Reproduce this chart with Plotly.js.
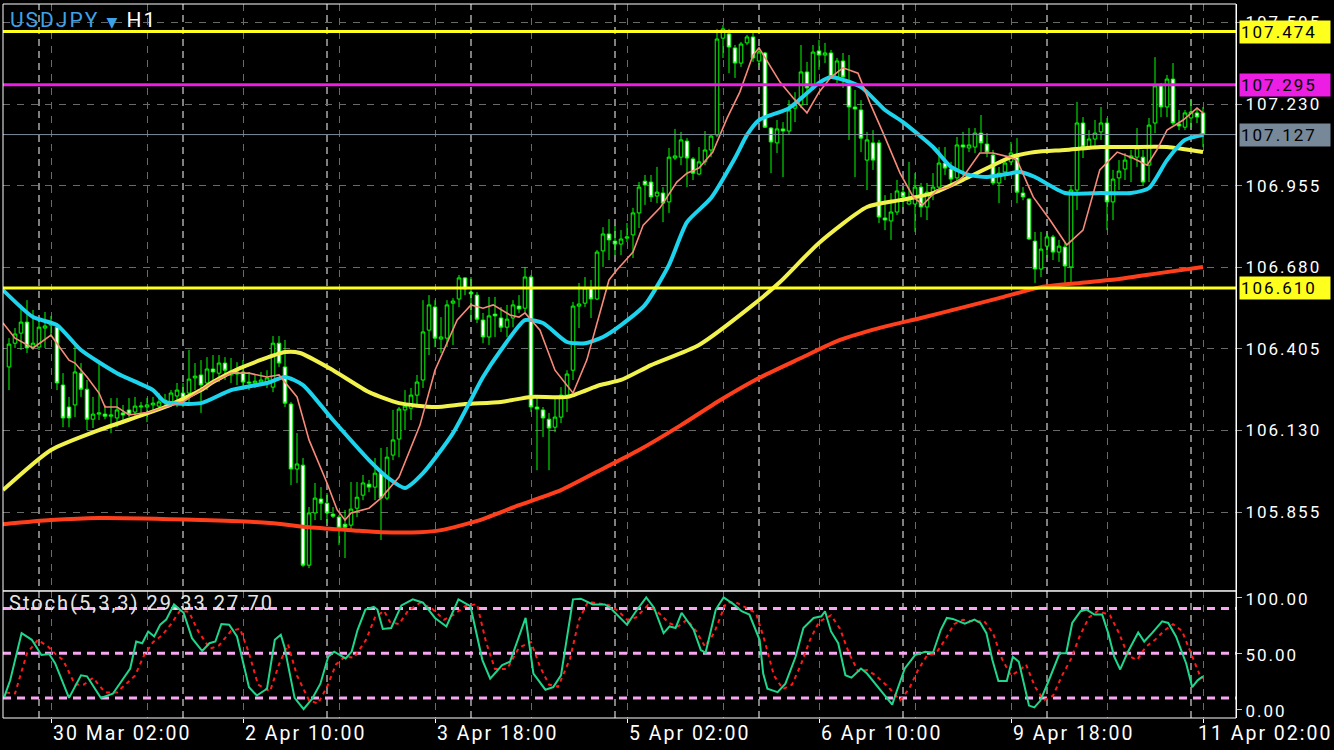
<!DOCTYPE html>
<html><head><meta charset="utf-8">
<script src="https://cdn.plot.ly/plotly-3.0.1.min.js"></script>
<style>
html,body{margin:0;padding:0;background:#000;overflow:hidden}
#chart{width:1334px;height:750px}
.annotation-text, .ytick text, .y2tick text{letter-spacing:2px}
</style>
</head><body><div id="chart"></div>
<script>
// ---------- data ----------
const symbol = "USDJPY";
const timeframe = "H1";
const timeLabels = ["30 Mar 02:00","2 Apr 10:00","3 Apr 18:00","5 Apr 02:00","6 Apr 10:00","9 Apr 18:00","11 Apr 02:00"];
const timeLabelBars = [7,39,71,103,135,167,199];
const daySeparatorBars = [5,29,53,77,101,125,149,173,197];
const priceTicks = [105.855,106.130,106.405,106.680,106.955,107.230,107.505];
const stochTicks = [0,50,100];
const stochTickText = ["0.00","50.00","100.00"];
const stochLevels = [10,50,90];
const levelYellowTop = 107.474;
const levelMagenta = 107.295;
const levelYellowBottom = 106.610;
const bidPrice = 107.127;
const stochHeader = "Stoch(5,3,3) 29.33 27.70";

const openP = [
106.344,106.424,106.458,106.495,106.411,106.411,106.475,106.485,106.478,106.283,
106.209,106.216,106.323,106.269,106.168,106.185,106.185,106.178,106.172,106.189,
106.199,106.192,106.209,106.209,106.216,106.212,106.226,106.226,106.246,106.256,
106.256,106.307,106.317,106.290,106.337,106.323,106.357,106.317,106.327,106.327,
106.293,106.290,106.293,106.293,106.276,106.424,106.344,106.219,106.000,106.013,
105.676,105.852,105.899,105.885,105.848,105.838,105.814,105.811,105.868,105.912,
105.949,105.939,105.986,105.902,106.047,106.101,106.199,106.205,106.249,106.300,
106.468,106.546,106.438,106.441,106.559,106.573,106.644,106.596,106.586,106.502,
106.445,106.522,106.509,106.478,106.509,106.549,106.542,106.647,106.209,106.199,
106.168,106.141,106.175,106.249,106.333,106.549,106.559,106.610,106.573,106.735,
106.792,106.768,106.758,106.778,106.789,106.863,106.970,106.967,106.920,106.930,
106.900,107.048,107.051,107.105,107.045,106.994,107.035,107.075,107.126,107.452,
107.466,107.419,107.368,107.436,107.456,107.375,107.402,107.149,107.099,107.146,
107.139,107.216,107.227,107.338,107.284,107.409,107.395,107.402,107.321,107.375,
107.294,107.220,107.210,107.041,107.099,107.099,106.846,106.836,106.866,106.933,
106.893,106.893,106.950,106.883,106.933,106.950,107.031,107.011,106.981,107.092,
107.082,107.085,107.132,107.095,107.058,106.964,107.001,107.035,107.051,106.930,
106.910,106.768,106.674,106.751,106.782,106.731,106.748,106.681,106.940,107.166,
107.085,107.112,107.136,107.166,106.900,106.981,107.011,107.048,107.051,107.051,
107.024,107.166,107.291,107.220,107.314,107.163,107.152,107.183,107.200,107.200];
const highP = [
106.441,106.475,106.553,106.569,106.536,106.502,106.529,106.516,106.492,106.323,
106.243,106.418,106.357,106.300,106.243,106.367,106.216,106.239,106.239,106.216,
106.239,106.243,106.226,106.239,106.243,106.256,106.253,106.266,106.290,106.290,
106.401,106.357,106.367,106.377,106.384,106.384,106.377,106.374,106.360,106.367,
106.327,106.317,106.327,106.333,106.448,106.448,106.435,106.226,106.121,106.037,
105.872,105.953,105.939,105.919,105.872,105.845,105.862,105.956,105.956,105.980,
105.963,106.037,106.071,106.074,106.199,106.209,106.266,106.273,106.317,106.569,
106.586,106.569,106.512,106.569,106.576,106.654,106.647,106.647,106.596,106.526,
106.580,106.580,106.546,106.553,106.569,106.586,106.681,106.654,106.243,106.209,
106.189,106.243,106.276,106.333,106.563,106.627,106.647,106.637,106.738,106.815,
106.842,106.822,106.805,106.829,106.880,106.967,106.991,106.991,107.018,106.950,
107.082,107.146,107.136,107.115,107.051,107.085,107.139,107.126,107.483,107.496,
107.483,107.429,107.439,107.463,107.469,107.419,107.405,107.152,107.176,107.169,
107.243,107.270,107.429,107.372,107.429,107.446,107.436,107.412,107.385,107.402,
107.395,107.277,107.243,107.136,107.142,107.109,106.923,106.930,106.974,106.950,
107.035,106.997,106.964,106.964,106.997,107.085,107.085,107.035,107.119,107.136,
107.149,107.149,107.193,107.132,107.075,107.018,107.048,107.102,107.115,106.950,
106.913,106.799,106.799,106.795,106.789,106.772,106.765,106.957,107.237,107.186,
107.142,107.176,107.220,107.183,107.008,107.041,107.065,107.075,107.149,107.075,
107.183,107.388,107.301,107.328,107.368,107.210,107.210,107.243,107.216,107.220];
const lowP = [
106.266,106.408,106.401,106.391,106.401,106.401,106.408,106.445,106.266,106.141,
106.141,106.175,106.243,106.131,106.138,106.165,106.168,106.121,106.141,106.155,
106.175,106.175,106.189,106.158,106.199,106.199,106.205,106.209,106.209,106.209,
106.226,106.266,106.189,106.266,106.293,106.293,106.300,106.290,106.283,106.266,
106.266,106.273,106.280,106.273,106.259,106.344,106.209,105.946,105.953,105.670,
105.666,105.828,105.828,105.818,105.835,105.744,105.700,105.794,105.838,105.895,
105.922,105.895,105.761,105.895,106.030,106.040,106.131,106.165,106.209,106.273,
106.384,106.411,106.391,106.411,106.418,106.546,106.586,106.502,106.492,106.424,
106.418,106.445,106.462,106.445,106.478,106.526,106.529,106.192,105.996,106.108,
105.996,106.124,106.155,106.192,106.300,106.475,106.546,106.509,106.569,106.681,
106.704,106.721,106.721,106.765,106.711,106.812,106.890,106.900,106.896,106.832,
106.863,107.041,107.024,106.950,106.974,106.991,107.024,107.051,107.119,107.385,
107.334,107.318,107.355,107.429,107.372,107.361,107.149,106.997,107.065,106.984,
107.126,107.169,107.216,107.227,107.277,107.345,107.368,107.318,107.301,107.284,
107.109,106.984,107.068,106.940,107.008,106.829,106.805,106.772,106.856,106.883,
106.890,106.799,106.849,106.839,106.906,106.930,106.991,106.957,106.964,106.984,
107.068,107.065,107.068,107.051,106.957,106.896,106.974,107.024,106.896,106.906,
106.772,106.627,106.647,106.711,106.704,106.698,106.627,106.627,106.873,107.048,
107.075,107.085,107.109,106.805,106.839,106.940,106.974,106.967,107.018,106.957,
106.967,107.132,107.186,107.186,107.159,107.142,107.142,107.152,107.166,107.085];
const closeP = [
106.421,106.455,106.495,106.408,106.424,106.478,106.482,106.495,106.290,106.172,
106.172,106.327,106.269,106.168,106.185,106.189,106.178,106.182,106.199,106.182,
106.185,106.212,106.212,106.216,106.222,106.226,106.232,106.256,106.266,106.239,
106.303,106.313,106.283,106.337,106.327,106.357,106.333,106.330,106.320,106.293,
106.290,106.296,106.300,106.307,106.424,106.357,106.222,106.000,106.017,105.676,
105.852,105.902,105.885,105.852,105.841,105.801,105.804,105.865,105.905,105.953,
105.939,105.986,105.902,106.040,106.098,106.202,106.212,106.249,106.293,106.462,
106.553,106.441,106.445,106.553,106.566,106.644,106.607,106.590,106.505,106.445,
106.516,106.516,106.478,106.505,106.553,106.539,106.647,106.209,106.202,106.172,
106.138,106.175,106.249,106.320,106.549,106.556,106.610,106.573,106.731,106.792,
106.772,106.758,106.775,106.782,106.863,106.950,106.957,106.917,106.933,106.896,
107.051,107.055,107.109,107.048,106.997,107.035,107.075,107.122,107.449,107.483,
107.422,107.368,107.432,107.456,107.385,107.405,107.152,107.102,107.146,107.139,
107.210,107.227,107.338,107.284,107.405,107.395,107.402,107.321,107.375,107.321,
107.220,107.213,107.115,107.109,107.041,106.849,106.839,106.866,106.937,106.917,
106.906,106.950,106.883,106.933,106.950,107.031,107.014,106.977,107.092,107.085,
107.092,107.132,107.099,107.068,106.964,106.997,107.031,107.065,106.933,106.917,
106.775,106.674,106.741,106.782,106.731,106.751,106.684,106.940,107.166,107.085,
107.112,107.132,107.166,106.900,106.977,107.004,107.041,107.055,107.082,106.967,
107.159,107.291,107.220,107.314,107.166,107.156,107.200,107.203,107.186,107.127];

// moving averages: [bar position, price]
const maFast = [[-1,106.492],[1,106.441],[4,106.408],[7,106.451],[10,106.367],[11,106.357],[13,106.310],[15,106.256],[16,106.209],[18,106.209],[20,106.182],[23.5,106.192],[26,106.209],[29,106.226],[34,106.293],[37,106.323],[40,106.323],[43,106.310],[45,106.317],[48,106.243],[50,106.098],[53,105.953],[54.7,105.862],[56,105.828],[57,105.852],[60,105.868],[62,105.902],[65,105.973],[68.5,106.148],[71,106.333],[74.7,106.502],[77,106.553],[79,106.542],[80.7,106.553],[83.5,106.519],[85,106.512],[86,106.526],[88.5,106.468],[91,106.333],[94,106.256],[96.3,106.367],[98.5,106.526],[100,106.637],[101.3,106.671],[104,106.731],[105.7,106.822],[108.5,106.880],[111.3,106.967],[113,106.997],[115,107.014],[117.3,107.068],[119.7,107.183],[121.8,107.270],[124,107.395],[125,107.419],[128.5,107.304],[130.7,107.250],[133,107.200],[135,107.270],[137,107.321],[139,107.352],[141.5,107.334],[143.5,107.233],[145.7,107.132],[148.5,106.997],[150.7,106.917],[152.3,106.890],[154.7,106.940],[156.8,106.950],[159,106.984],[161.8,107.065],[164,107.065],[166.8,107.051],[168,107.041],[170.7,106.917],[173.5,106.839],[176.3,106.755],[179,106.805],[181.8,107.008],[184.7,107.068],[187.3,107.048],[189.7,107.024],[191.3,107.075],[193,107.142],[195.7,107.176],[198,107.216],[199,107.200]];
const maCyan = [[-1,106.603],[4,106.512],[8,106.485],[12,106.401],[18,106.323],[24,106.266],[26,106.226],[32,106.222],[37,106.266],[43,106.290],[46,106.310],[49,106.283],[54,106.165],[60,106.030],[63,105.973],[66,105.936],[69,105.986],[74,106.121],[79,106.310],[82,106.401],[86,106.502],[89,106.492],[93,106.428],[96,106.424],[99,106.445],[102,106.485],[106,106.553],[110,106.688],[113,106.832],[117,106.913],[121,107.048],[123,107.126],[125,107.176],[130,107.216],[135,107.301],[137,107.321],[142,107.287],[146,107.210],[149,107.169],[154,107.085],[157,107.018],[160,106.991],[163,106.984],[167,106.997],[168.5,107.001],[171,106.984],[176,106.930],[182,106.930],[187,106.930],[190,106.947],[193,107.041],[196,107.109],[199,107.126]];
const maYellow = [[-1,105.929],[7,106.064],[15,106.131],[26,106.209],[32,106.266],[34,106.293],[38.5,106.340],[46,106.394],[48.5,106.391],[54,106.333],[60,106.259],[65,106.222],[71,106.209],[76,106.219],[82,106.226],[87,106.243],[93,106.243],[98.5,106.283],[102,106.300],[107,106.350],[115,106.418],[124,106.553],[128.5,106.630],[135,106.762],[143,106.883],[148.5,106.906],[154,106.930],[160,106.984],[167,107.051],[171,107.068],[176,107.075],[182,107.085],[187,107.085],[193,107.085],[199,107.068]];
const maRed = [[-1,105.814],[7,105.828],[15,105.835],[32,105.828],[43.5,105.818],[50,105.804],[57,105.794],[62,105.787],[68.5,105.787],[72,105.794],[78.5,105.828],[85,105.878],[92,105.929],[98.5,105.996],[105,106.064],[112,106.148],[118.5,106.232],[125,106.307],[132,106.374],[138.5,106.435],[145,106.475],[152,106.509],[158.5,106.542],[165,106.576],[172,106.613],[178.5,106.627],[185,106.640],[192,106.661],[199,106.681]];

// stochastic (5,3,3): [bar position, value]
const stochK = [[-0.8,10.7],[0.2,25.8],[2.1,68],[3.8,62],[5.4,48.4],[6.7,49.3],[7.7,40.9],[10,10.1],[12,30.3],[13,29.4],[15.3,10.1],[17.3,13.8],[20.2,36.4],[21.2,60.5],[22.2,59],[23.2,69.5],[24.2,65],[25.2,75.6],[26.2,80.1],[27.5,93.7],[29.1,86.2],[30.5,63.5],[32.2,52],[33.4,59],[34.4,60.5],[35.4,76.2],[36.7,75.6],[38,65],[40,19.7],[41.3,12.2],[43,18.3],[44.3,62],[45.3,66.5],[45.9,55.9],[47.6,10.1],[49.1,0],[50.5,9.2],[51.9,22.8],[53.2,46.9],[54.2,51.4],[56.1,45.4],[57.1,51.4],[58.1,71],[59.4,89.1],[60.8,91.6],[61.4,89.1],[62.3,71.7],[63.7,72.6],[65.4,92.8],[67.3,98.2],[69,95.2],[71,81.6],[72.9,74],[74.9,98.2],[76.9,92.1],[78.9,43.9],[80.2,27.3],[82.2,39.4],[83.5,42.4],[86.1,81.6],[87.4,31.9],[89.4,17.4],[90.7,19.7],[92,30.3],[94,98.2],[95.3,98.8],[97.3,93.7],[99.3,93.7],[100.2,90.7],[101.8,81.6],[103,75.6],[104.5,87.6],[106.2,100],[107.5,90.7],[109.1,68],[110.1,74],[111.1,72.6],[112.1,86.2],[114.1,71],[115.3,52.9],[116.1,50.5],[117.8,89.1],[119.1,100],[120.8,93.7],[122.1,87.6],[123.4,84.6],[125.1,62],[125.7,31.9],[126.4,18.3],[128.1,15.2],[129.4,22.8],[131.1,46.9],[132.4,72.6],[134.1,81.6],[135.4,83.1],[136,87.6],[137,69.5],[138.2,59],[139.4,30.3],[140.4,28.2],[142,36.4],[143,31.9],[145.3,16.7],[147.2,4.1],[148,16.7],[149.3,36.4],[151,48.4],[152.7,51.4],[154,50.5],[155.3,71],[156.3,81.6],[157.3,80.7],[159.3,76.5],[160.9,80.1],[161.9,77.1],[162.9,68],[163.9,43.9],[164.9,25.2],[166.3,25.2],[167.3,46.9],[168.3,42.4],[169.3,19.7],[170,3.2],[170.9,1.6],[171.9,7.7],[173.2,24.3],[175.1,50],[176.2,50],[177.2,77.1],[178.6,87.6],[179.6,89.1],[180.9,84.6],[182.2,84.6],[183.2,68],[184.2,46.9],[185.2,35.5],[186.5,51.4],[188.2,68.6],[189.2,60.5],[190.5,68],[192.2,78.6],[193.2,77.1],[194.5,65],[196.2,40.9],[197.2,19.7],[198.1,25.8],[199,29.3]];
const stochD = [[-0.5,15],[1,14],[3,50],[4.8,62],[6.5,56],[8,48],[9,44],[11,22],[12.5,22],[14,28],[16,15],[18,15],[21,30],[22.5,48],[24,60],[25.5,66],[27,76],[28.5,88],[30,87],[31.5,70],[33.5,54],[35,57],[37,70],[38.5,72],[40,50],[41.5,22],[43.5,16],[45,40],[46.5,58],[48,30],[50,8],[51.5,5],[53,20],[54.5,40],[56,47],[57.5,46],[59.5,62],[61,82],[62.5,88],[63.5,78],[65,76],[66.5,88],[68.5,95],[70.5,90],[72.5,80],[74,84],[76,92],[78,94],[79.5,60],[81,36],[83,36],[85,55],[87,60],[88.5,38],[90,22],[91.5,20],[93.5,45],[95,80],[96.5,96],[98.5,94],[100,93],[101.5,88],[103,80],[104.5,82],[106.5,93],[108.5,85],[110,77],[111.5,74],[113,80],[114.5,70],[116,56],[117.5,68],[119.5,95],[121,96],[123,90],[124.5,86],[126,60],[127.5,30],[129,18],[130.5,22],[132,40],[133.5,62],[135,78],[137,84],[138.5,72],[140,50],[141.5,34],[143,35],[144.5,30],[146.5,20],[148.5,8],[150,18],[151.5,35],[153,48],[154.5,50],[156,62],[157.5,76],[159,80],[161,78],[162.5,79],[164,68],[165.5,45],[167,30],[168.5,35],[169.5,40],[171,20],[172.5,8],[174,12],[175.5,30],[177,45],[178.5,66],[180,82],[181.5,88],[183.5,84],[185,68],[186.5,48],[188,44],[189.5,56],[191,62],[192.5,70],[194,76],[195.5,70],[197,50],[198.5,30],[199,27.7]];

// ---------- styling ----------
const GRID = '#6a6a6a';
const GRIDDASH = '7px,7px';
const FONT = 'Roboto, "DejaVu Sans", sans-serif';
const barIndex = openP.map((_, i) => i);
const minorGridBars = timeLabelBars.map(b => b - 16).concat([timeLabelBars[timeLabelBars.length-1] + 16]);
const col = (arr, k) => arr.map(p => p[k]);
const MAIN_BOTTOM = 0.1779;

const traces = [
  {type:'candlestick', x:barIndex, open:openP, high:highP, low:lowP, close:closeP,
   xaxis:'x', yaxis:'y', whiskerwidth:0, hoverinfo:'skip',
   increasing:{line:{color:'#00ff00', width:1}, fillcolor:'#000000'},
   decreasing:{line:{color:'#00ff00', width:1}, fillcolor:'#ffffff'}},
  {type:'scatter', mode:'lines', x:col(maRed,0), y:col(maRed,1), xaxis:'x', yaxis:'y',
   line:{color:'#ff3f1c', width:4, shape:'spline', smoothing:0.6}, hoverinfo:'skip'},
  {type:'scatter', mode:'lines', x:col(maYellow,0), y:col(maYellow,1), xaxis:'x', yaxis:'y',
   line:{color:'#f2f24c', width:4, shape:'spline', smoothing:0.6}, hoverinfo:'skip'},
  {type:'scatter', mode:'lines', x:col(maCyan,0), y:col(maCyan,1), xaxis:'x', yaxis:'y',
   line:{color:'#1cd4ee', width:4, shape:'spline', smoothing:0.6}, hoverinfo:'skip'},
  {type:'scatter', mode:'lines', x:col(maFast,0), y:col(maFast,1), xaxis:'x', yaxis:'y',
   line:{color:'#f98a7a', width:1.6}, hoverinfo:'skip'},
  {type:'scatter', mode:'lines', x:col(stochD,0), y:col(stochD,1), xaxis:'x2', yaxis:'y2',
   line:{color:'#ff1a1a', width:2, dash:'4px,4px'}, hoverinfo:'skip'},
  {type:'scatter', mode:'lines', x:col(stochK,0), y:col(stochK,1), xaxis:'x2', yaxis:'y2',
   line:{color:'#1ed68c', width:2}, hoverinfo:'skip'}
];

const shapes = [];
daySeparatorBars.forEach(b => shapes.push({type:'line', xref:'x', yref:'paper', x0:b, x1:b, y0:0, y1:1,
  line:{color:'#ffffff', width:1, dash:'7px,5px'}, layer:'below'}));
stochLevels.forEach(v => shapes.push({type:'line', xref:'paper', yref:'y2', x0:0, x1:1, y0:v, y1:v,
  line:{color:'#f7a6ef', width:3, dash:'8px,6px'}, layer:'below'}));
shapes.push({type:'line', xref:'paper', yref:'y', x0:0, x1:1, y0:bidPrice, y1:bidPrice, line:{color:'#7f8c9a', width:1}, layer:'above'});
shapes.push({type:'line', xref:'paper', yref:'y', x0:0, x1:1, y0:levelYellowTop, y1:levelYellowTop, line:{color:'#ffff1e', width:3}, layer:'above'});
shapes.push({type:'line', xref:'paper', yref:'y', x0:0, x1:1, y0:levelMagenta, y1:levelMagenta, line:{color:'#ec1ee4', width:3}, layer:'above'});
shapes.push({type:'line', xref:'paper', yref:'y', x0:0, x1:1, y0:levelYellowBottom, y1:levelYellowBottom, line:{color:'#ffff1e', width:3}, layer:'above'});
shapes.push({type:'rect', xref:'paper', yref:'paper', x0:0, x1:1, y0:MAIN_BOTTOM, y1:1, line:{color:'#ffffff', width:1}, layer:'above'});
shapes.push({type:'rect', xref:'paper', yref:'paper', x0:0, x1:1, y0:0, y1:MAIN_BOTTOM, line:{color:'#ffffff', width:1}, layer:'above'});

const PX = 1/1233, PY = 1/714;
const boxX = 1 + 3*PX;
const boxLabel = (v, bg) => ({xref:'paper', yref:'y', x:boxX, y:v, xanchor:'left', yanchor:'middle',
  text:v.toFixed(3), showarrow:false, bgcolor:bg, borderpad:1, width:88, height:20, align:'left',
  font:{family:FONT, size:17, color:'#000'}});

const annotations = [
  boxLabel(levelYellowTop, '#ffff1e'),
  boxLabel(levelMagenta, '#ec1ee4'),
  boxLabel(bidPrice, '#778899'),
  boxLabel(levelYellowBottom, '#ffff1e'),
  {xref:'paper', yref:'paper', x:5*PX, y:1 - 16*PY, xanchor:'left', yanchor:'middle', showarrow:false,
   text:'<span style="color:#3ea2e8">' + symbol + '</span> <span style="color:#3ea2e8;font-size:14px">▼</span> ' + timeframe,
   font:{family:FONT, size:21, color:'#ffffff'}},
  {xref:'paper', yref:'paper', x:4*PX, y:(718-603)*PY, xanchor:'left', yanchor:'middle', showarrow:false,
   text:stochHeader, font:{family:FONT, size:20, color:'#e6e6e6'}}
];
const lastLabel = timeLabels.length - 1;
timeLabels.forEach((t, k) => {
  const a = {yref:'paper', y:-15*PY, yanchor:'middle', showarrow:false, text:t,
    font:{family:FONT, size:19.5, color:'#ffffff'}};
  if (k === lastLabel) {
    // last label is pushed against the right edge of the picture so it stays whole
    Object.assign(a, {xref:'paper', x:(1334-3)/1233, xanchor:'right'});
  } else {
    Object.assign(a, {xref:'x2', x:timeLabelBars[k], xanchor:'left'});
  }
  annotations.push(a);
});

const xCommon = {range:[-1,204.5], showgrid:true, gridcolor:GRID, griddash:GRIDDASH, gridwidth:1,
  tickmode:'array', tickvals:timeLabelBars, zeroline:false, showline:false, fixedrange:true,
  minor:{tickmode:'array', tickvals:minorGridBars, showgrid:true, gridcolor:GRID, griddash:GRIDDASH, gridwidth:1, ticks:''}};

const layout = {
  width:1334, height:750, paper_bgcolor:'#000', plot_bgcolor:'#000', showlegend:false,
  margin:{l:3, r:98, t:4, b:32}, boxgap:0.15,
  font:{family:FONT, color:'#fff'},
  xaxis:Object.assign({}, xCommon, {anchor:'y', showticklabels:false, ticks:'', rangeslider:{visible:false}}),
  xaxis2:Object.assign({}, xCommon, {anchor:'y2', matches:'x', showticklabels:false, ticks:'outside', ticklen:4, tickcolor:'#ffffff'}),
  yaxis:{domain:[MAIN_BOTTOM,1], range:[105.589,107.567], side:'right', anchor:'x', tickmode:'array', tickvals:priceTicks,
    ticktext:priceTicks.map(v => v.toFixed(3)), ticks:'outside', ticklen:5, tickcolor:'#9a9a9a',
    showgrid:true, gridcolor:GRID, griddash:GRIDDASH, zeroline:false, showline:true, linecolor:'#ffffff',
    tickfont:{family:FONT, size:17, color:'#ffffff'}, fixedrange:true},
  yaxis2:{domain:[0,MAIN_BOTTOM], range:[-7.9,105.7], side:'right', anchor:'x2', tickmode:'array', tickvals:stochTicks,
    ticktext:stochTickText, ticks:'outside', ticklen:5, tickcolor:'#f7a6ef', showgrid:false, zeroline:false,
    showline:true, linecolor:'#ffffff', ticklabelshift:2, tickfont:{family:FONT, size:17, color:'#ffffff'}, fixedrange:true},
  shapes:shapes, annotations:annotations
};

Plotly.newPlot('chart', traces, layout, {staticPlot:true, displayModeBar:false});
</script></body></html>
